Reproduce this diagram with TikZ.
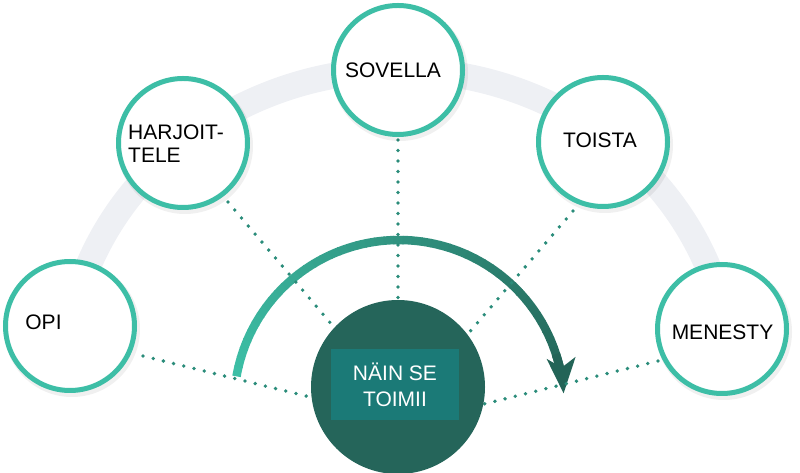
\documentclass[tikz,border=0pt]{standalone}
\usepackage{fontspec}
\setmainfont{Liberation Sans}
\usetikzlibrary{arrows.meta}
\definecolor{ring}{HTML}{3DBEA6}
\definecolor{band}{HTML}{EEF0F4}
\definecolor{dotc}{HTML}{2A8C7A}
\definecolor{hubc}{HTML}{25655A}
\definecolor{boxc}{HTML}{1B7A77}
\definecolor{arrA}{HTML}{3DBFA6}
\definecolor{arrB}{HTML}{236457}
\begin{document}
\begin{tikzpicture}[x=1pt,y=1pt,
  stage/.style={circle,draw=ring,line width=5pt,fill=white,minimum size=129pt,inner sep=0pt},
  lbl/.style={font=\fontsize{21}{23}\selectfont,inner sep=0pt,text=black},
  dotline/.style={dotc,line width=3.8pt,line cap=round,dash pattern=on 0pt off 10.5pt},
  shaft/.style={line width=8.5pt}
]
\useasboundingbox (0,0) rectangle (800,473);
% grey band
\coordinate (ell) at (398,93);
\draw[band,line width=26pt] ([shift={(170:333pt and 310pt)}]ell) arc[start angle=170,end angle=10,x radius=333pt,y radius=310pt];
% gradient arrow
\coordinate (arc0) at (399,68);
\foreach \i in {0,...,47}{
  \pgfmathsetmacro\aa{170-\i*3.25}
  \pgfmathsetmacro\bb{\aa-3.6}
  \pgfmathsetmacro\pp{\i*100/50}
  \draw[shaft,color=arrB!\pp!arrA] ([shift={(\aa:165pt)}]arc0) arc[start angle=\aa,end angle=\bb,radius=165pt];
}
\draw[shaft,arrB,-{Stealth[length=35pt,width=28pt,inset=9pt]}] ([shift={(18:165pt)}]arc0) arc[start angle=18,end angle=4,radius=165pt];
% dotted connectors
\coordinate (s1) at (143,117); \coordinate (e1) at (310,76);
\coordinate (s2) at (228,271); \coordinate (e2) at (333,147);
\coordinate (s3) at (398,333); \coordinate (e3) at (398,173);
\coordinate (s4) at (573,262); \coordinate (e4) at (467,138);
\coordinate (s5) at (658,112); \coordinate (e5) at (484,69);
\draw[dotline] (s1) -- (e1);
\draw[dotline] (s2) -- (e2);
\draw[dotline] (s3) -- (e3);
\draw[dotline] (s4) -- (e4);
\draw[dotline] (s5) -- (e5);
% hub
\node[circle,fill=hubc,minimum size=174pt,inner sep=0pt] (hub) at (398,86) {};
\node[fill=boxc,minimum width=128pt,minimum height=71pt,inner sep=0pt,text=white,align=center,font=\fontsize{21}{26}\selectfont] (hubbox) at (395,88.5) {NÄIN SE\\TOIMII};
% shadows
\foreach \p in {(70,147),(183,330),(398,403),(603,331),(722,144)}{
  \fill[black,opacity=0.06] \p ++(2,-3) circle[radius=68pt];
}
% stages
\node[stage] (opi) at (70,147) {};
\node[stage] (harj) at (183,330) {};
\node[stage] (sov) at (398,403) {};
\node[stage] (toi) at (603,331) {};
\node[stage] (men) at (722,144) {};
% labels
\node[lbl] (topi) at (43.5,151) {OPI};
\node[lbl,align=left,anchor=west] (tharj) at (128,329.5) {HARJOIT-\\TELE};
\node[lbl] (tsov) at (393,403) {SOVELLA};
\node[lbl] (ttoi) at (600,333) {TOISTA};
\node[lbl] (tmen) at (722.5,141) {MENESTY};
\end{tikzpicture}
\end{document}
